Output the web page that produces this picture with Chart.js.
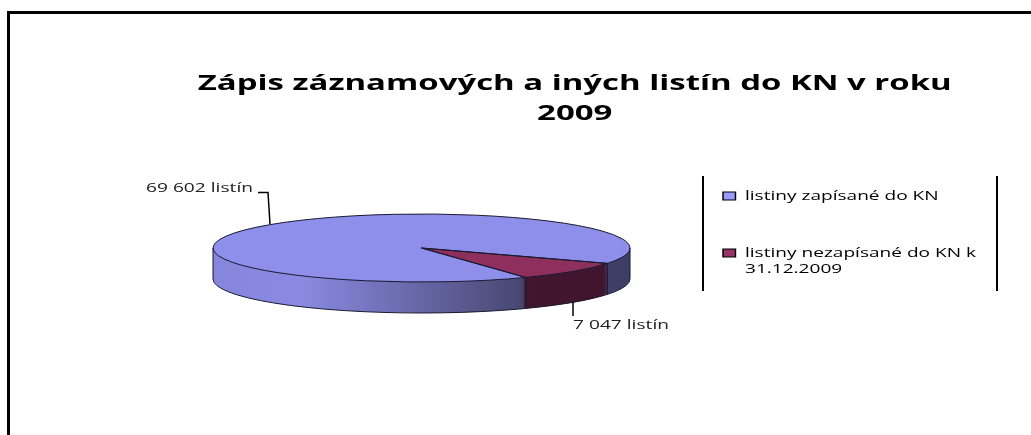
<!DOCTYPE html>
<html><head><meta charset="utf-8">
<style>html,body{margin:0;padding:0;background:#fff;overflow:hidden}canvas{display:block}</style>
<script src="https://cdn.jsdelivr.net/npm/chart.js@4/dist/chart.umd.min.js"></script>
</head><body><div style="width:1031px;height:435px"><canvas id="c" width="1031" height="435"></canvas></div>
<script>
const titleLines = ['Zápis záznamových a iných listín do KN v roku', '2009'];
const categories = ['listiny zapísané do KN', ['listiny nezapísané do KN k', '31.12.2009']];
const values = [69602, 7047];
const topColors = ['#8E8EEB', '#8E2F5E'];
const legendColors = ['#9999FF', '#993366'];
const valueLabels = ['69 602 listín', '7 047 listín'];

const CX = 421.5, CY = 248, RX = 208.5, RY = 34, DEPTH = 31;
const TITLE_FONT = 'bold 22px "Open Sans"', SMALL_FONT = '13px "Open Sans"';

function place(ctx, arc, dy) {
  ctx.translate(CX - arc.x, CY + dy);
  ctx.scale(1, RY / RX);
  ctx.translate(0, -arc.y);
}
function sideFill(ctx, arc, i) {
  if (i === 1) return '#42162F';
  const x0 = arc.x - RX, w = 2 * RX;
  const g = ctx.createLinearGradient(x0, 0, x0 + w, 0);
  g.addColorStop(0, '#8585DC');
  g.addColorStop(0.21, '#8A8AE2');
  g.addColorStop(0.45, '#6C6CB0');
  g.addColorStop(0.75, '#46466F');
  g.addColorStop(1, '#3D3D66');
  return g;
}
function strokeEllipseArc(ctx, arc, start, end, dy, wedge) {
  ctx.save();
  place(ctx, arc, dy);
  ctx.beginPath();
  if (wedge) ctx.moveTo(arc.x, arc.y);
  ctx.arc(arc.x, arc.y, arc.outerRadius, start, end);
  if (wedge) ctx.closePath();
  ctx.restore();
  ctx.stroke();
}
function rimPoint(arc, angle, dy) {
  return [CX + RX * Math.cos(angle), CY + dy + RY * Math.sin(angle)];
}
function widthOf(ctx, font, text) {
  ctx.save(); ctx.font = font; const w = ctx.measureText(text).width; ctx.restore(); return w;
}
function stretchDraw(box, ctx, cx, sx) {
  const orig = box.draw;
  box.draw = function (a) {
    ctx.save();
    ctx.translate(cx, 0); ctx.scale(sx, 1); ctx.translate(-cx, 0);
    orig.call(box, a);
    ctx.restore();
  };
}
function stretchText(ctx, text, x, y, targetW) {
  const sx = targetW / ctx.measureText(text).width;
  ctx.save();
  ctx.translate(x, y); ctx.scale(sx, 1);
  ctx.fillText(text, 0, 0);
  ctx.restore();
}

const pie3d = {
  id: 'pie3d',
  afterLayout(chart) {
    const ctx = chart.ctx;
    const t = chart.titleBlock;
    t.left += 118;
    stretchDraw(t, ctx, 574, 754 / widthOf(ctx, TITLE_FONT, titleLines[0]));
    const l = chart.legend;
    const w = l.right - l.left, h = l.bottom - l.top;
    l.left = 679; l.right = 679 + w; l.top = 145.5; l.bottom = 145.5 + h;
    stretchDraw(l, ctx, 723, 231 / widthOf(ctx, SMALL_FONT, categories[1][0]));
  },
  beforeDraw(chart) {
    const ctx = chart.ctx;
    ctx.save();
    ctx.fillStyle = '#000';
    ctx.fillRect(7, 11, 1024, 3);
    ctx.fillRect(7, 11, 3, 424);
    ctx.fillRect(702, 176, 2, 115);
    ctx.fillRect(996, 176, 2, 115);
    ctx.restore();
  },
  beforeDatasetsDraw(chart) {
    const ctx = chart.ctx;
    const arcs = chart.getDatasetMeta(0).data;
    for (let dy = DEPTH; dy >= 1; dy--) {
      arcs.forEach((arc, i) => {
        ctx.save();
        place(ctx, arc, dy);
        const saved = arc.options.backgroundColor;
        arc.options.backgroundColor = sideFill(ctx, arc, i);
        arc.draw(ctx);
        arc.options.backgroundColor = saved;
        ctx.restore();
      });
    }
  },
  beforeDatasetDraw(chart) {
    const ctx = chart.ctx;
    ctx.save();
    place(ctx, chart.getDatasetMeta(0).data[0], 0);
  },
  afterDatasetDraw(chart) {
    chart.ctx.restore();
  },
  afterDatasetsDraw(chart) {
    const ctx = chart.ctx;
    const arcs = chart.getDatasetMeta(0).data;
    ctx.save();
    ctx.strokeStyle = '#1a1a30';
    ctx.lineWidth = 1;
    arcs.forEach(arc => strokeEllipseArc(ctx, arc, arc.startAngle, arc.endAngle, 0, true));
    strokeEllipseArc(ctx, arcs[0], 0, Math.PI, DEPTH, false);
    const edges = [0, Math.PI, arcs[1].startAngle, arcs[1].endAngle];
    edges.forEach(a => {
      const p = rimPoint(arcs[0], a, 0), q = rimPoint(arcs[0], a, DEPTH);
      ctx.beginPath(); ctx.moveTo(p[0], p[1]); ctx.lineTo(q[0], q[1]); ctx.stroke();
    });
    ctx.strokeStyle = '#000';
    ctx.lineWidth = 1.5;
    ctx.beginPath(); ctx.moveTo(258, 192.5); ctx.lineTo(268, 192.5); ctx.lineTo(270, 224); ctx.stroke();
    ctx.beginPath(); ctx.moveTo(573, 302); ctx.lineTo(573, 316); ctx.stroke();
    ctx.fillStyle = '#222';
    ctx.font = SMALL_FONT;
    ctx.textBaseline = 'middle';
    ctx.textAlign = 'left';
    stretchText(ctx, valueLabels[0], 146, 188, 107);
    stretchText(ctx, valueLabels[1], 573, 325, 96);
    ctx.restore();
  }
};

new Chart(document.getElementById('c'), {
  type: 'pie',
  data: {
    labels: categories,
    datasets: [{
      data: values,
      backgroundColor: topColors,
      borderWidth: 0,
      radius: RX,
      clip: false
    }]
  },
  options: {
    responsive: false,
    animation: false,
    rotation: 150,
    events: [],
    plugins: {
      tooltip: { enabled: false },
      title: {
        display: true,
        text: titleLines,
        color: '#000',
        font: { family: '"Open Sans"', size: 22, weight: 'bold', lineHeight: 1.4 },
        padding: { top: 68, bottom: 10 }
      },
      legend: {
        display: true,
        position: 'right',
        align: 'start',
        labels: {
          boxWidth: 8.5,
          boxHeight: 8,
          padding: 44,
          color: '#222',
          font: { family: '"Open Sans"', size: 13, lineHeight: 1.25 },
          generateLabels: chart => chart.data.labels.map((text, i) => ({
            text, fillStyle: legendColors[i], strokeStyle: '#000', lineWidth: 1, hidden: false, index: i
          }))
        }
      }
    }
  },
  plugins: [pie3d]
});
</script></body></html>
